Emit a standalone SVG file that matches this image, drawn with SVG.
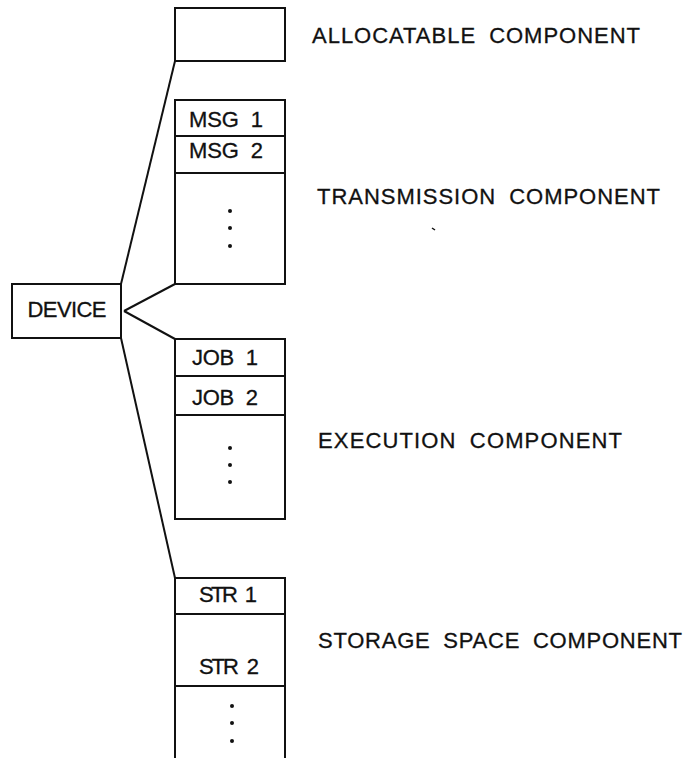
<svg xmlns="http://www.w3.org/2000/svg" width="695" height="758" viewBox="0 0 695 758">
  <style>
    .box { fill: #fff; stroke: #111; stroke-width: 2; }
    .div { stroke: #111; stroke-width: 2; }
    .link { stroke: #111; stroke-width: 2; fill: none; }
    .t { font-family: "Liberation Sans", Arial, sans-serif; font-size: 22px; fill: #111; stroke: #111; stroke-width: 0.3; word-spacing: 6px; }
    .c { text-anchor: middle; }
    .dot { fill: #111; }
  </style>
  <rect width="695" height="758" fill="#fff"/>

  <!-- connectors from the device to each component -->
  <g id="connectors">
    <line class="link" x1="121" y1="284" x2="175" y2="61"/>
    <line class="link" x1="124" y1="311" x2="175" y2="284"/>
    <line class="link" x1="124" y1="311" x2="175" y2="339"/>
    <line class="link" x1="121" y1="338" x2="175" y2="578"/>
  </g>

  <g id="device">
    <rect class="box" x="12" y="284" width="109" height="54"/>
    <text class="t c" x="67" y="317" textLength="79" lengthAdjust="spacing">DEVICE</text>
  </g>

  <g id="allocatable">
    <rect class="box" x="175" y="8" width="110" height="53"/>
    <text class="t" x="312" y="43" textLength="328" lengthAdjust="spacing">ALLOCATABLE COMPONENT</text>
  </g>

  <g id="transmission">
    <rect class="box" x="175" y="100" width="110" height="184"/>
    <line class="div" x1="175" y1="136" x2="285" y2="136"/>
    <line class="div" x1="175" y1="173" x2="285" y2="173"/>
    <text class="t c" x="226" y="127" textLength="74" lengthAdjust="spacing">MSG 1</text>
    <text class="t c" x="226" y="158" textLength="74" lengthAdjust="spacing">MSG 2</text>
    <circle class="dot" cx="230" cy="211" r="2"/>
    <circle class="dot" cx="230" cy="228" r="2"/>
    <circle class="dot" cx="230" cy="246" r="2"/>
    <text class="t" x="317" y="204" textLength="343" lengthAdjust="spacing">TRANSMISSION COMPONENT</text>
    <line x1="432" y1="228" x2="435" y2="230" stroke="#111" stroke-width="1.5"/>
  </g>

  <g id="execution">
    <rect class="box" x="175" y="339" width="110" height="180"/>
    <line class="div" x1="175" y1="376" x2="285" y2="376"/>
    <line class="div" x1="175" y1="415" x2="285" y2="415"/>
    <text class="t c" x="225" y="365" textLength="66" lengthAdjust="spacing">JOB 1</text>
    <text class="t c" x="225" y="405" textLength="66" lengthAdjust="spacing">JOB 2</text>
    <circle class="dot" cx="230" cy="448" r="2"/>
    <circle class="dot" cx="230" cy="465" r="2"/>
    <circle class="dot" cx="230" cy="482" r="2"/>
    <text class="t" x="318" y="448" textLength="304" lengthAdjust="spacing">EXECUTION COMPONENT</text>
  </g>

  <g id="storage">
    <path class="box" d="M175,760 L175,578 L285,578 L285,760"/>
    <line class="div" x1="175" y1="614" x2="285" y2="614"/>
    <line class="div" x1="175" y1="686" x2="285" y2="686"/>
    <text class="t c" x="228" y="602" textLength="58" lengthAdjust="spacing">STR 1</text>
    <text class="t c" x="229" y="674" textLength="60" lengthAdjust="spacing">STR 2</text>
    <circle class="dot" cx="232" cy="706" r="2"/>
    <circle class="dot" cx="232" cy="723" r="2"/>
    <circle class="dot" cx="232" cy="741" r="2"/>
    <text class="t" x="318" y="648" textLength="364" lengthAdjust="spacing">STORAGE SPACE COMPONENT</text>
  </g>
</svg>
